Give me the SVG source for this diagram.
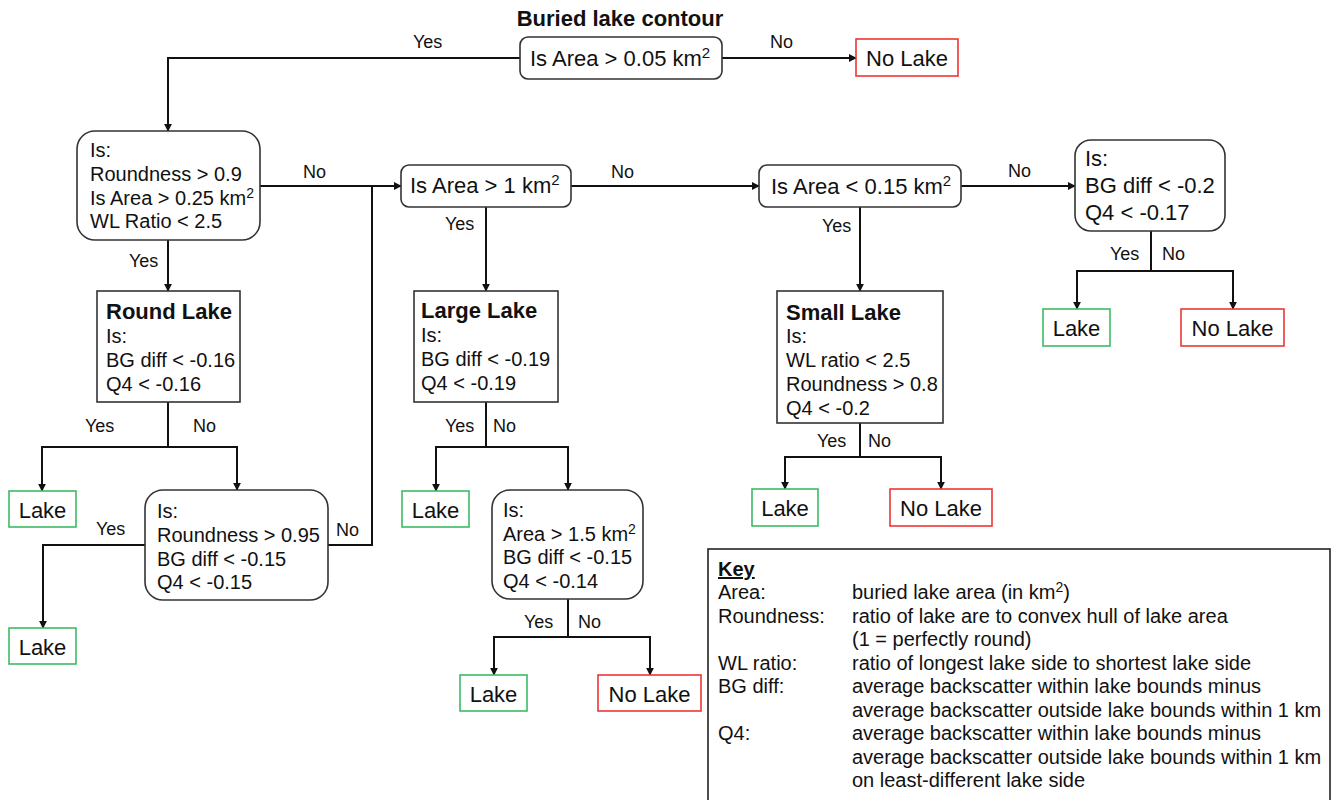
<svg xmlns="http://www.w3.org/2000/svg" width="1333" height="800" viewBox="0 0 1333 800">
<defs>
<marker id="arr" viewBox="0 0 10 10" refX="9" refY="5" markerWidth="8" markerHeight="8" markerUnits="userSpaceOnUse" orient="auto">
<path d="M0,0 L10,5 L0,10 z" fill="#111"/>
</marker>
<style>
text{font-family:"Liberation Sans",Arial,sans-serif;fill:#111}
.t22{font-size:22px}
.t20{font-size:20px}
.b22{font-size:22px;font-weight:bold}
.lbl{font-size:18px}
.key{font-size:20px}
.node{fill:#fff;stroke:#333;stroke-width:1.6}
.green{fill:#fff;stroke:#3dbb62;stroke-width:1.6}
.red{fill:#fff;stroke:#ee3535;stroke-width:1.6}
.conn path{fill:none;stroke:#111;stroke-width:2}
.arrow{marker-end:url(#arr)}
</style>
</defs>
<rect width="1333" height="800" fill="#fff"/>

<text class="b22" x="620" y="26" text-anchor="middle">Buried lake contour</text>

<g class="conn">
<path class="arrow" d="M520,58 H168 V131"/>
<path class="arrow" d="M722,58 H856"/>
<path class="arrow" d="M260,186 H401"/>
<path d="M328,545 H372 V186"/>
<path class="arrow" d="M168,240 V291"/>
<path class="arrow" d="M571,186 H759"/>
<path class="arrow" d="M961,186 H1075"/>
<path class="arrow" d="M486,207 V291"/>
<path class="arrow" d="M860,207 V291"/>
<path d="M1151,231 V271"/>
<path class="arrow" d="M1151,271 H1077 V309"/>
<path class="arrow" d="M1151,271 H1233 V309"/>
<path d="M168,402 V447"/>
<path class="arrow" d="M168,447 H42 V491"/>
<path class="arrow" d="M168,447 H237 V490"/>
<path class="arrow" d="M145,545 H43 V628"/>
<path d="M486,402 V447"/>
<path class="arrow" d="M486,447 H436 V491"/>
<path class="arrow" d="M486,447 H568 V490"/>
<path d="M568,599 V637"/>
<path class="arrow" d="M568,637 H494 V675"/>
<path class="arrow" d="M568,637 H650 V675"/>
<path d="M860,423 V457"/>
<path class="arrow" d="M860,457 H785 V489"/>
<path class="arrow" d="M860,457 H941 V489"/>
</g>

<g id="labels">
<text class="lbl" x="413" y="48">Yes</text>
<text class="lbl" x="770" y="48">No</text>
<text class="lbl" x="303" y="178">No</text>
<text class="lbl" x="611" y="178">No</text>
<text class="lbl" x="1008" y="177">No</text>
<text class="lbl" x="129" y="267">Yes</text>
<text class="lbl" x="445" y="230">Yes</text>
<text class="lbl" x="822" y="232">Yes</text>
<text class="lbl" x="1110" y="260">Yes</text>
<text class="lbl" x="1162" y="260">No</text>
<text class="lbl" x="85" y="432">Yes</text>
<text class="lbl" x="193" y="432">No</text>
<text class="lbl" x="96" y="535">Yes</text>
<text class="lbl" x="336" y="536">No</text>
<text class="lbl" x="445" y="432">Yes</text>
<text class="lbl" x="493" y="432">No</text>
<text class="lbl" x="524" y="628">Yes</text>
<text class="lbl" x="578" y="628">No</text>
<text class="lbl" x="817" y="447">Yes</text>
<text class="lbl" x="868" y="447">No</text>
</g>

<g id="n-top">
<rect class="node" x="520" y="37" width="202" height="42" rx="8"/>
<text class="t22" x="530" y="66">Is Area &gt; 0.05 km<tspan dy="-8" font-size="15">2</tspan></text>
</g>
<g id="n-top-no">
<rect class="red" x="856" y="39" width="102" height="37"/>
<text class="t22" x="907" y="66" text-anchor="middle">No Lake</text>
</g>

<g id="n-a">
<rect class="node" x="77" y="131" width="183" height="109" rx="18"/>
<text class="t20" x="90" y="157">Is:</text>
<text class="t20" x="90" y="181">Roundness &gt; 0.9</text>
<text class="t20" x="90" y="205">Is Area &gt; 0.25 km<tspan dy="-7" font-size="14">2</tspan></text>
<text class="t20" x="90" y="228">WL Ratio &lt; 2.5</text>
</g>

<g id="n-b">
<rect class="node" x="401" y="165" width="170" height="42" rx="8"/>
<text class="t22" x="410" y="193">Is Area &gt; 1 km<tspan dy="-8" font-size="15">2</tspan></text>
</g>

<g id="n-c">
<rect class="node" x="759" y="165" width="202" height="42" rx="8"/>
<text class="t22" x="771" y="194">Is Area &lt; 0.15 km<tspan dy="-8" font-size="15">2</tspan></text>
</g>

<g id="n-d">
<rect class="node" x="1075" y="140" width="150" height="91" rx="16"/>
<text class="t22" x="1085" y="166">Is:</text>
<text class="t22" x="1085" y="193">BG diff &lt; -0.2</text>
<text class="t22" x="1085" y="220">Q4 &lt; -0.17</text>
</g>
<g id="n-d-yes">
<rect class="green" x="1043" y="309" width="67" height="37"/>
<text class="t22" x="1076.5" y="336" text-anchor="middle">Lake</text>
</g>
<g id="n-d-no">
<rect class="red" x="1181" y="309" width="103" height="37"/>
<text class="t22" x="1232.5" y="336" text-anchor="middle">No Lake</text>
</g>

<g id="n-round">
<rect class="node" x="97" y="291" width="143" height="111"/>
<text class="b22" x="106" y="319">Round Lake</text>
<text class="t20" x="106" y="343">Is:</text>
<text class="t20" x="106" y="367">BG diff &lt; -0.16</text>
<text class="t20" x="106" y="391">Q4 &lt; -0.16</text>
</g>
<g id="n-round-yes">
<rect class="green" x="9" y="491" width="67" height="36"/>
<text class="t22" x="42.5" y="518" text-anchor="middle">Lake</text>
</g>

<g id="n-e">
<rect class="node" x="145" y="490" width="183" height="110" rx="18"/>
<text class="t20" x="157" y="518">Is:</text>
<text class="t20" x="157" y="542">Roundness &gt; 0.95</text>
<text class="t20" x="157" y="566">BG diff &lt; -0.15</text>
<text class="t20" x="157" y="589">Q4 &lt; -0.15</text>
</g>
<g id="n-e-yes">
<rect class="green" x="9" y="628" width="67" height="36"/>
<text class="t22" x="42.5" y="655" text-anchor="middle">Lake</text>
</g>

<g id="n-large">
<rect class="node" x="414" y="291" width="144" height="111"/>
<text class="b22" x="421" y="318">Large Lake</text>
<text class="t20" x="421" y="342">Is:</text>
<text class="t20" x="421" y="366">BG diff &lt; -0.19</text>
<text class="t20" x="421" y="390">Q4 &lt; -0.19</text>
</g>
<g id="n-large-yes">
<rect class="green" x="402" y="491" width="67" height="36"/>
<text class="t22" x="435.5" y="518" text-anchor="middle">Lake</text>
</g>

<g id="n-f">
<rect class="node" x="492" y="490" width="151" height="109" rx="18"/>
<text class="t20" x="503" y="517">Is:</text>
<text class="t20" x="503" y="541">Area &gt; 1.5 km<tspan dy="-7" font-size="14">2</tspan></text>
<text class="t20" x="503" y="564">BG diff &lt; -0.15</text>
<text class="t20" x="503" y="588">Q4 &lt; -0.14</text>
</g>
<g id="n-f-yes">
<rect class="green" x="460" y="675" width="67" height="36"/>
<text class="t22" x="493.5" y="702" text-anchor="middle">Lake</text>
</g>
<g id="n-f-no">
<rect class="red" x="598" y="675" width="103" height="36"/>
<text class="t22" x="649.5" y="702" text-anchor="middle">No Lake</text>
</g>

<g id="n-small">
<rect class="node" x="777" y="291" width="166" height="132"/>
<text class="b22" x="786" y="320">Small Lake</text>
<text class="t20" x="786" y="343">Is:</text>
<text class="t20" x="786" y="367">WL ratio &lt; 2.5</text>
<text class="t20" x="786" y="391">Roundness &gt; 0.8</text>
<text class="t20" x="786" y="415">Q4 &lt; -0.2</text>
</g>
<g id="n-small-yes">
<rect class="green" x="752" y="489" width="66" height="37"/>
<text class="t22" x="785" y="516" text-anchor="middle">Lake</text>
</g>
<g id="n-small-no">
<rect class="red" x="890" y="489" width="102" height="37"/>
<text class="t22" x="941" y="516" text-anchor="middle">No Lake</text>
</g>

<g id="key">
<rect x="708" y="549" width="622" height="260" fill="#fff" stroke="#222" stroke-width="1.6"/>
<text class="key" x="718" y="576" font-weight="bold" text-decoration="underline">Key</text>
<text class="key" x="718" y="599">Area:</text>
<text class="key" x="852" y="599">buried lake area (in km<tspan dy="-7" font-size="14">2</tspan><tspan dy="7">)</tspan></text>
<text class="key" x="718" y="622.5">Roundness:</text>
<text class="key" x="852" y="622.5">ratio of lake are to convex hull of lake area</text>
<text class="key" x="852" y="646">(1 = perfectly round)</text>
<text class="key" x="718" y="669.5">WL ratio:</text>
<text class="key" x="852" y="669.5">ratio of longest lake side to shortest lake side</text>
<text class="key" x="718" y="693">BG diff:</text>
<text class="key" x="852" y="693">average backscatter within lake bounds minus</text>
<text class="key" x="852" y="716.5">average backscatter outside lake bounds within 1 km</text>
<text class="key" x="718" y="740">Q4:</text>
<text class="key" x="852" y="740">average backscatter within lake bounds minus</text>
<text class="key" x="852" y="763.5">average backscatter outside lake bounds within 1 km</text>
<text class="key" x="852" y="787">on least-different lake side</text>
</g>
</svg>
